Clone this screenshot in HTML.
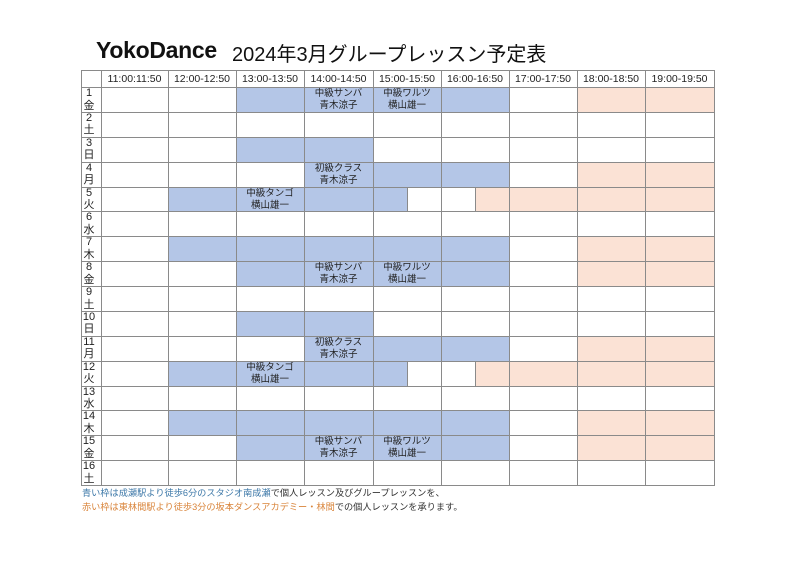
<!DOCTYPE html>
<html><head><meta charset="utf-8"><style>
body{margin:0;width:800px;height:566px;background:#fff;position:relative;overflow:hidden;font-family:"Liberation Sans","Noto Sans CJK JP",sans-serif;}
.c{position:absolute;box-sizing:border-box;}
.t{position:absolute;font-size:9.5px;color:#222;text-align:center;line-height:12px;}
.v{position:absolute;width:1px;background:#8a8a8a;}
.h{position:absolute;height:1px;background:#8a8a8a;}
</style></head><body>
<div style="position:absolute;left:96px;top:37px;font-size:23px;font-weight:bold;color:#111;letter-spacing:-0.3px">YokoDance</div>
<div style="position:absolute;left:232px;top:38px;font-size:20px;color:#111">2024年3月グループレッスン予定表</div>
<div id="g"></div>
<div style="position:absolute;left:82px;top:485px;font-size:9.2px;color:#333;white-space:nowrap"><span style="color:#3d78a8">青い枠は成瀬駅より徒歩6分のスタジオ南成瀬</span>で個人レッスン及びグループレッスンを、</div>
<div style="position:absolute;left:82px;top:499px;font-size:9.2px;color:#333;white-space:nowrap"><span style="color:#d9843a">赤い枠は東林間駅より徒歩3分の坂本ダンスアカデミー・林間</span>での個人レッスンを承ります。</div>
<script>
var X=[81,101,168,236,304,373,441,509,577,645,714];
var T0=87,RH=24.875,H0=70;
var B="#b4c6e7",P="#fbe2d5";
var hdr=["11:00:11:50","12:00-12:50","13:00-13:50","14:00-14:50","15:00-15:50","16:00-16:50","17:00-17:50","18:00-18:50","19:00-19:50"];
var days=["金","土","日","月","火","水","木","金","土","日","月","火","水","木","金","土"];
var s="";
function rect(x1,y1,x2,y2,c){s+='<div class="c" style="left:'+x1+'px;top:'+y1+'px;width:'+(x2-x1)+'px;height:'+(y2-y1)+'px;background:'+c+'"></div>';}
function txt(ci,r,a,b){var y=T0+r*RH;s+='<div class="t" style="left:'+X[ci]+'px;top:'+(y+1)+'px;width:'+(X[ci+1]-X[ci])+'px">'+a+'<br>'+b+'</div>';}
var pat=["F","N","S","M","T","N","R","F","N","S","M","T","N","R","F","N"];
for(var r=0;r<16;r++){
 var y1=T0+r*RH,y2=T0+(r+1)*RH,p=pat[r];
 function cc(i,c){rect(X[i],y1,X[i+1],y2,c);}
 if(p=="F"){cc(3,B);cc(4,B);cc(5,B);cc(6,B);cc(8,P);cc(9,P);}
 if(p=="S"){cc(3,B);cc(4,B);}
 if(p=="M"){cc(4,B);cc(5,B);cc(6,B);cc(8,P);cc(9,P);}
 if(p=="R"){cc(2,B);cc(3,B);cc(4,B);cc(5,B);cc(6,B);cc(8,P);cc(9,P);}
 if(p=="T"){cc(2,B);cc(3,B);cc(4,B);rect(373,y1,407,y2,B);rect(475,y1,509,y2,P);cc(7,P);cc(8,P);cc(9,P);}
}
for(var r=0;r<16;r++){
 var p=pat[r];
 if(p=="F"){txt(4,r,"中級サンバ","青木涼子");txt(5,r,"中級ワルツ","横山雄一");}
 if(p=="M"){txt(4,r,"初級クラス","青木涼子");}
 if(p=="T"){txt(3,r,"中級タンゴ","横山雄一");}
 var y=T0+r*RH;
 s+='<div class="t" style="left:81px;top:'+(y)+'px;width:16px;font-size:11px;line-height:12.5px">'+(r+1)+'<br>'+days[r]+'</div>';
}
for(var i=0;i<9;i++)s+='<div class="t" style="left:'+X[i+1]+'px;top:'+(H0+2)+'px;width:'+(X[i+2]-X[i+1])+'px;font-size:10.5px;line-height:14px">'+hdr[i]+'</div>';
var bot=T0+16*RH;
for(var i=0;i<X.length;i++)s+='<div class="v" style="left:'+X[i]+'px;top:'+H0+'px;height:'+(bot-H0)+'px"></div>';
s+='<div class="h" style="left:81px;top:'+H0+'px;width:634px"></div>';
for(var r=0;r<=16;r++)s+='<div class="h" style="left:81px;top:'+Math.round(T0+r*RH)+'px;width:634px"></div>';
for(var r=0;r<16;r++)if(pat[r]=="T"){var y1=Math.round(T0+r*RH);s+='<div class="v" style="left:407px;top:'+y1+'px;height:25px"></div><div class="v" style="left:475px;top:'+y1+'px;height:25px"></div>';}
document.getElementById("g").innerHTML=s;
</script>
</body></html>
